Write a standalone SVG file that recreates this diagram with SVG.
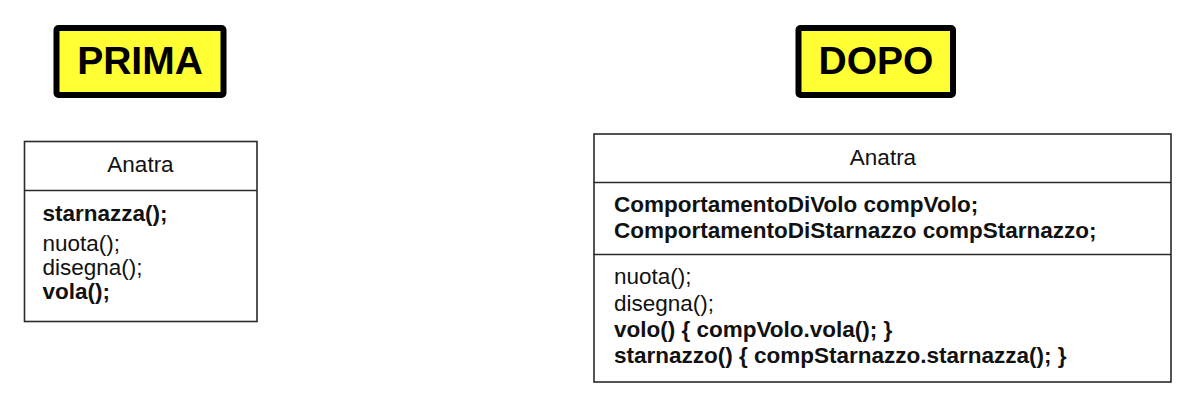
<svg xmlns="http://www.w3.org/2000/svg" width="1200" height="412" viewBox="0 0 1200 412">
<style>
.title{fill:#ffff33;stroke:#000;stroke-width:6}
.tt{font-family:"Liberation Sans",Arial,sans-serif;font-weight:bold;font-size:39px;fill:#000;text-anchor:middle}
.cls{fill:#fff;stroke:#2a2a2a;stroke-width:1.6}
.div{stroke:#2a2a2a;stroke-width:1.6}
.t{font-family:"Liberation Sans",Arial,sans-serif;font-size:22.5px;fill:#111}
.b{font-weight:bold}
.c{text-anchor:middle}
</style>
<rect width="1200" height="412" fill="#fff"/>
<g id="prima">
<rect class="title" x="56.5" y="28" width="167" height="67" rx="2"/>
<text class="tt" x="140" y="74">PRIMA</text>
</g>
<g id="dopo">
<rect class="title" x="798.5" y="28" width="154.5" height="67" rx="2"/>
<text class="tt" x="876" y="74">DOPO</text>
</g>
<g id="anatra-prima">
<rect class="cls" x="24.5" y="141.5" width="232.5" height="180"/>
<line class="div" x1="24.5" y1="190.5" x2="257" y2="190.5"/>
<text class="t c" x="140.5" y="172">Anatra</text>
<text class="t b" x="42.5" y="221">starnazza();</text>
<text class="t" x="42.5" y="251">nuota();</text>
<text class="t" x="42.5" y="275">disegna();</text>
<text class="t b" x="42.5" y="299">vola();</text>
</g>
<g id="anatra-dopo">
<rect class="cls" x="594" y="134" width="577" height="248"/>
<line class="div" x1="594" y1="182.5" x2="1171" y2="182.5"/>
<line class="div" x1="594" y1="254.5" x2="1171" y2="254.5"/>
<text class="t c" x="883" y="165">Anatra</text>
<text class="t b" x="614" y="212">ComportamentoDiVolo compVolo;</text>
<text class="t b" x="614" y="238">ComportamentoDiStarnazzo compStarnazzo;</text>
<text class="t" x="614" y="284">nuota();</text>
<text class="t" x="614" y="311">disegna();</text>
<text class="t b" x="614" y="337">volo() { compVolo.vola(); }</text>
<text class="t b" x="614" y="363">starnazzo() { compStarnazzo.starnazza(); }</text>
</g>
<g id="connectors"></g>
</svg>
